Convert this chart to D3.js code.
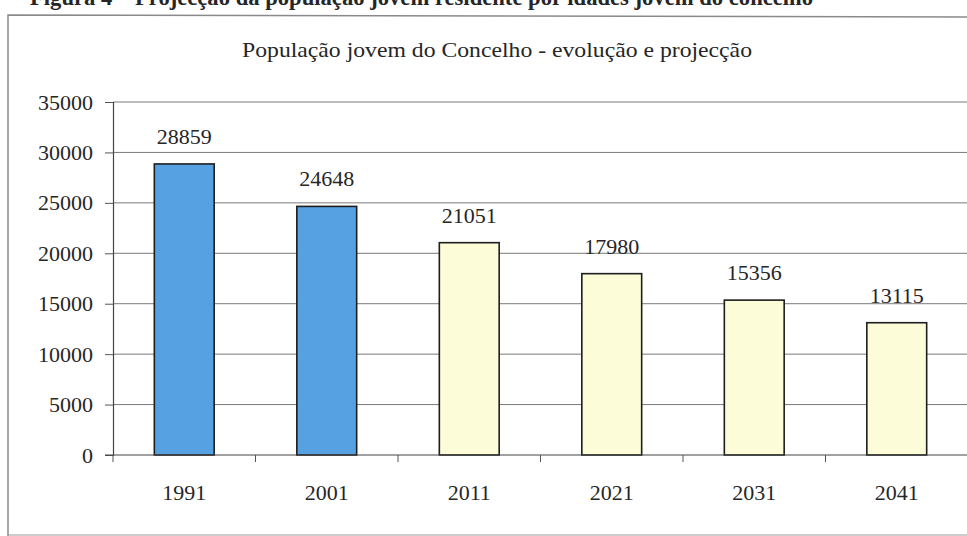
<!DOCTYPE html>
<html>
<head>
<meta charset="utf-8">
<script src="https://cdn.jsdelivr.net/npm/d3@7"></script>
<style>
  html, body { margin: 0; padding: 0; background: #fff; }
  svg { display: block; }
  text { font-family: "Liberation Serif", "Times New Roman", serif; fill: #262626; }
</style>
</head>
<body>
<svg id="chart" width="967" height="536"></svg>
<script>
const categories = ["1991", "2001", "2011", "2021", "2031", "2041"];
const values = [28859, 24648, 21051, 17980, 15356, 13115];
const kinds = ["observed", "observed", "projected", "projected", "projected", "projected"];
const yTicks = [0, 5000, 10000, 15000, 20000, 25000, 30000, 35000];
const title = "População jovem do Concelho - evolução e projecção";
const caption = "Figura 4 – Projecção da população jovem residente por idades jovem do concelho";

(function () {
const svg = d3.select("#chart");
const W = 967, H = 536;
const plotLeft = 113, plotRight = 968, plotTop = 102, plotBottom = 455;

const x = d3.scaleBand().domain(categories).range([plotLeft, plotRight]).paddingInner(0.58).paddingOuter(0.29);
const y = d3.scaleLinear().domain([0, 35000]).range([plotBottom, plotTop]);
const fillOf = { observed: "#56a1e2", projected: "#fcfcd9" };

// cut-off caption above the frame
svg.append("text")
  .attr("x", 30).attr("y", 5)
  .attr("font-size", 24).attr("font-weight", "bold")
  .attr("textLength", 783).attr("lengthAdjust", "spacingAndGlyphs")
  .text(caption);

// frame
svg.append("path")
  .attr("d", `M8,${H} L8,15 L${W},17`)
  .attr("fill", "none").attr("stroke", "#8a8a8a").attr("stroke-width", 1.5);
svg.append("line").attr("x1", 8).attr("x2", W).attr("y1", 535).attr("y2", 535)
  .attr("stroke", "#9a9a9a").attr("stroke-width", 1);

// title
svg.append("text")
  .attr("x", 497).attr("y", 57)
  .attr("text-anchor", "middle")
  .attr("font-size", 22)
  .attr("textLength", 510).attr("lengthAdjust", "spacingAndGlyphs")
  .text(title);

// gridlines
svg.append("g").selectAll("line").data(yTicks.filter(d => d > 0)).join("line")
  .attr("x1", plotLeft).attr("x2", W)
  .attr("y1", d => y(d)).attr("y2", d => y(d))
  .attr("stroke", "#7a7a7a").attr("stroke-width", 1);

// y axis
const yAxis = svg.append("g").attr("transform", `translate(${plotLeft},0)`)
  .call(d3.axisLeft(y).tickValues(yTicks).tickSize(8).tickPadding(12).tickFormat(d3.format("d")));
yAxis.select(".domain").attr("stroke", "#444").attr("stroke-width", 1.2);
yAxis.selectAll(".tick line").attr("stroke", "#555");
yAxis.selectAll(".tick text").attr("font-size", 22).attr("font-family", "Liberation Serif").attr("fill", "#262626");

// bars
svg.append("g").selectAll("rect").data(categories).join("rect")
  .attr("x", d => x(d))
  .attr("y", (d, i) => y(values[i]))
  .attr("width", x.bandwidth())
  .attr("height", (d, i) => y(0) - y(values[i]))
  .attr("fill", (d, i) => fillOf[kinds[i]])
  .attr("stroke", "#1e1e1e").attr("stroke-width", 1.6);

// x axis line and ticks at category boundaries
svg.append("line").attr("x1", plotLeft - 8).attr("x2", W).attr("y1", plotBottom).attr("y2", plotBottom)
  .attr("stroke", "#444").attr("stroke-width", 1.2);
const step = x.step();
svg.append("g").selectAll("line").data(d3.range(categories.length + 1)).join("line")
  .attr("x1", i => plotLeft + i * step).attr("x2", i => plotLeft + i * step)
  .attr("y1", plotBottom).attr("y2", plotBottom + 7)
  .attr("stroke", "#555");

// x labels
svg.append("g").selectAll("text").data(categories).join("text")
  .attr("x", d => x(d) + x.bandwidth() / 2)
  .attr("y", 500)
  .attr("text-anchor", "middle")
  .attr("font-size", 22)
  .text(d => d);

// value labels
svg.append("g").selectAll("text").data(categories).join("text")
  .attr("x", d => x(d) + x.bandwidth() / 2)
  .attr("y", (d, i) => y(values[i]) - 20)
  .attr("text-anchor", "middle")
  .attr("font-size", 22)
  .text((d, i) => values[i]);
})();
</script>
</body>
</html>
